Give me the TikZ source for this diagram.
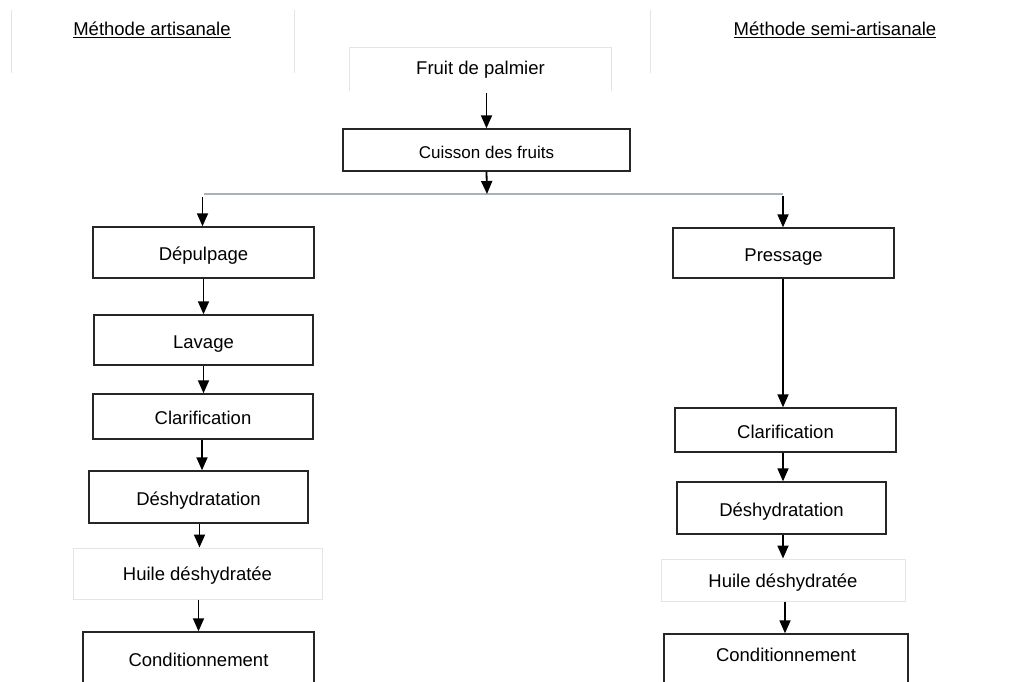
\documentclass[tikz,border=0pt]{standalone}
\usepackage{fontspec}
\setmainfont{Liberation Sans}
\usetikzlibrary{arrows.meta}
\definecolor{faint}{HTML}{E4E4E4}
\definecolor{linegray}{HTML}{A9B1B9}
\begin{document}
\begin{tikzpicture}[x=1pt,y=-1pt,
  txt/.style={font=\fontsize{18.5}{22}\selectfont},
  stepbox/.style={txt,draw=black!85,line width=1.4pt,inner sep=0pt,anchor=center,text height=16pt,text depth=0pt},
  softbox/.style={txt,draw=faint,line width=1pt,inner sep=0pt,anchor=center,text height=15pt,text depth=1pt},
  arr/.style={-{Triangle[width=11pt,length=13pt]},line width=1.8pt,black},
  frame/.style={faint,line width=1pt}]
\useasboundingbox[fill=white] (0,0) rectangle (1013,681);
% header frames (faint)
\draw[frame] (11,10) -- (11,73);
\draw[frame] (294,10) -- (294,73);
\draw[frame] (650,10) -- (650,73);
% headers
\node[txt] (h1) at (152,30) {\underline{Méthode artisanale}};
\node[txt] (h2) at (835,30) {\underline{Méthode semi-artisanale}};
% top
\node[txt,minimum width=261pt,minimum height=43pt,inner sep=0pt] (fruit) at (480.5,69.5) {Fruit de palmier};
\draw[frame] (fruit.south west) -- (fruit.north west) -- (fruit.north east) -- (fruit.south east);
\node[stepbox,font=\fontsize{17}{20}\selectfont,minimum width=287pt,minimum height=42pt] (cuis) at (486.5,150) {Cuisson des fruits};
% left branch
\node[stepbox,minimum width=221pt,minimum height=51pt] (dep) at (203.5,252.5) {Dépulpage};
\node[stepbox,minimum width=219pt,minimum height=50pt] (lav) at (203.5,340) {Lavage};
\node[stepbox,minimum width=220pt,minimum height=45pt] (clarL) at (203,416.5) {Clarification};
\node[stepbox,minimum width=219pt,minimum height=52pt] (deshL) at (198.5,497) {Déshydratation};
\node[softbox,minimum width=249pt,minimum height=51pt] (huileL) at (197.5,573.5) {Huile déshydratée};
\node[stepbox,minimum width=231pt,text height=14pt,text depth=40pt,inner ysep=20pt] (condL) at (198.5,679) {Conditionnement};
% right branch
\node[stepbox,minimum width=221pt,minimum height=50pt] (press) at (783.5,253) {Pressage};
\node[stepbox,minimum width=221pt,minimum height=44pt] (clarR) at (785.5,430) {Clarification};
\node[stepbox,minimum width=209pt,minimum height=52pt] (deshR) at (781.5,508) {Déshydratation};
\node[softbox,minimum width=244pt,minimum height=42pt] (huileR) at (783,580) {Huile déshydratée};
\node[stepbox,minimum width=244pt,text height=14pt,text depth=40pt,inner ysep=13pt] (condR) at (786,674) {Conditionnement};
% connectors
\coordinate (hl) at (204,194);
\coordinate (hr) at (783,194);
\coordinate (split) at (487,194);
\draw[linegray,line width=2.2pt] (hl) -- (hr);
\draw[arr] (cuis.north |- fruit.south) ++(0,2) -- (cuis.north);
\draw[arr] (cuis.south) -- (split);
\draw[arr] (dep.north |- hl) ++(-1,3) -- ([xshift=-1pt]dep.north);
\draw[arr] (hr) ++(0,2) -- (press.north -| hr);
\draw[arr] (dep.south) -- (lav.north);
\draw[arr] (lav.south) -- (lav.south |- clarL.north);
\draw[arr] ([xshift=-1pt]clarL.south) -- ([xshift=-1pt]clarL.south |- deshL.north);
\draw[arr] ([xshift=1pt]deshL.south) -- ([xshift=1pt]deshL.south |- huileL.north);
\draw[arr] ([xshift=1pt]huileL.south) -- ([xshift=1pt]huileL.south |- condL.north);
\draw[arr] (press.south -| hr) -- (clarR.north -| hr);
\draw[arr] (clarR.south -| hr) -- (deshR.north -| hr);
\draw[arr] (deshR.south -| hr) -- (huileR.north -| hr);
\draw[arr] ([xshift=2pt]huileR.south -| hr) -- ([xshift=2pt]condR.north -| hr);
\end{tikzpicture}
\end{document}
